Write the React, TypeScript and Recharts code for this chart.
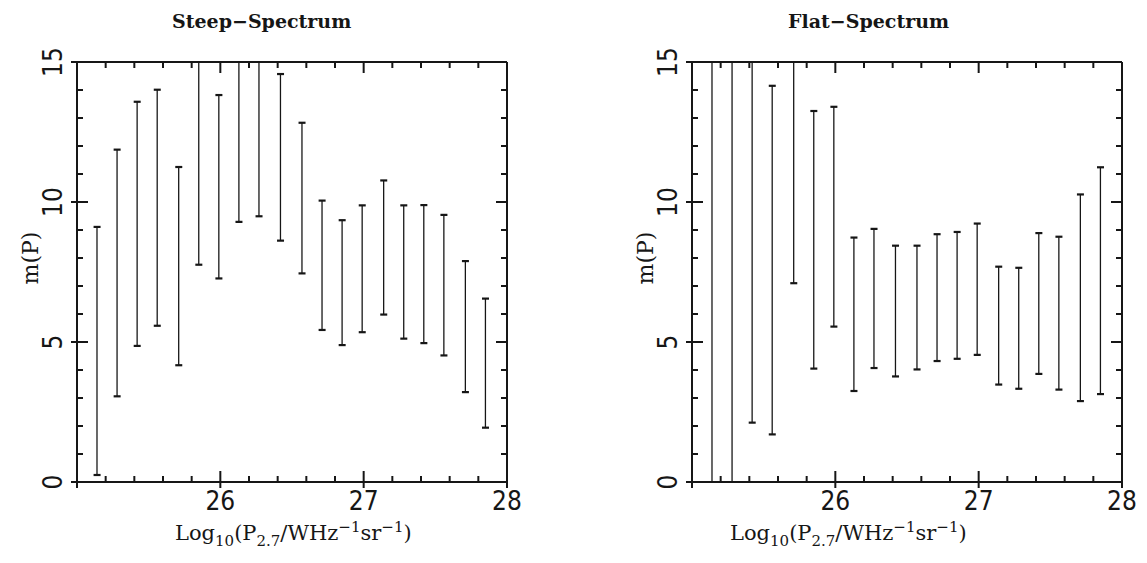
import { ComposedChart, Scatter, Bar, XAxis, YAxis, Label } from 'recharts'

// bin centres, Log10(P2.7)
const binX = [25.14, 25.28, 25.42, 25.56, 25.71, 25.85, 25.99, 26.13, 26.27, 26.42, 26.57, 26.71, 26.85, 26.99, 27.14, 27.28, 27.42, 27.56, 27.71, 27.85]

// m(P) ranges, values above 15 / below 0 run off the frame
const steepLow = [0.25, 3.06, 4.86, 5.58, 4.17, 7.76, 7.27, 9.29, 9.49, 8.62, 7.45, 5.43, 4.89, 5.35, 5.98, 5.12, 4.96, 4.52, 3.21, 1.94]
const steepHigh = [9.11, 11.87, 13.58, 14.01, 11.25, 16, 13.82, 16, 16, 14.57, 12.83, 10.05, 9.35, 9.88, 10.77, 9.88, 9.89, 9.54, 7.89, 6.55]
const flatLow = [-1, -1, 2.12, 1.7, 7.1, 4.05, 5.55, 3.25, 4.07, 3.77, 4.02, 4.32, 4.4, 4.54, 3.48, 3.33, 3.86, 3.3, 2.89, 3.14]
const flatHigh = [16, 16, 16, 14.15, 16, 13.25, 13.4, 8.73, 9.04, 8.44, 8.44, 8.85, 8.93, 9.23, 7.69, 7.65, 8.89, 8.76, 10.27, 11.24]

const xTicks = [25, 25.2, 25.4, 25.6, 25.8, 26, 26.2, 26.4, 26.6, 26.8, 27, 27.2, 27.4, 27.6, 27.8, 28]
const yTicks = [0, 1, 2, 3, 4, 5, 6, 7, 8, 9, 10, 11, 12, 13, 14, 15]

const X_MIN = 25
const X_MAX = 28
const Y_MIN = 0
const Y_MAX = 15

const INK = '#161616'
const numFont = "'DejaVu Sans Condensed', 'DejaVu Sans', sans-serif"
const serif = "'DejaVu Serif', 'Liberation Serif', serif"

const isMajorX = (v: number) => Math.abs(v - Math.round(v)) < 1e-6
const isMajorY = (v: number) => Math.abs(v % 5) < 1e-6

// tick labels only; the tick marks are drawn as scatter marks on the frame
function BottomTick(props: any) {
  const x = Number(props.x)
  const y = Number(props.y)
  const v = props.payload.value
  if (!isMajorX(v) || v === X_MIN) return <g />
  return (
    <text x={x} y={y + 19} textAnchor="middle" dominantBaseline="central" fontFamily={numFont} fontSize={26} fill={INK}>
      {v}
    </text>
  )
}

function LeftTick(props: any) {
  const x = Number(props.x)
  const y = Number(props.y)
  const v = props.payload.value
  if (!isMajorY(v)) return <g />
  return (
    <text
      x={x - 24}
      y={y}
      transform={`rotate(-90, ${x - 24}, ${y})`}
      textAnchor="middle"
      dominantBaseline="central"
      fontFamily={numFont}
      fontSize={26}
      fill={INK}
    >
      {v}
    </text>
  )
}

const BottomMark = (props: any) => {
  const major = isMajorX(props.payload.x)
  return <line x1={props.cx} x2={props.cx} y1={props.cy + (major ? 6 : 0)} y2={props.cy - (major ? 11 : 6)} stroke={INK} strokeWidth={2} />
}
const TopMark = (props: any) => {
  const major = isMajorX(props.payload.x)
  return <line x1={props.cx} x2={props.cx} y1={props.cy} y2={props.cy + (major ? 11 : 6)} stroke={INK} strokeWidth={2} />
}
const LeftMark = (props: any) => {
  const major = isMajorY(props.payload.v)
  return <line x1={props.cx - (major ? 6 : 0)} x2={props.cx + (major ? 11 : 6)} y1={props.cy} y2={props.cy} stroke={INK} strokeWidth={2} />
}
const RightMark = (props: any) => {
  const major = isMajorY(props.payload.v)
  return <line x1={props.cx} x2={props.cx - (major ? 11 : 6)} y1={props.cy} y2={props.cy} stroke={INK} strokeWidth={2} />
}

// short horizontal end cap of an error bar
const Cap = (props: any) => <line x1={props.cx - 3.5} x2={props.cx + 3.5} y1={props.cy} y2={props.cy} stroke={INK} strokeWidth={2.2} />

interface PanelProps {
  title: string
  low: number[]
  high: number[]
  titleX: number
  labelX: number
}

function Panel({ title, low, high, titleX, labelX }: PanelProps) {
  const data = binX.map((x, i) => ({
    x,
    range: [Math.max(low[i], Y_MIN), Math.min(high[i], Y_MAX)],
  }))
  // caps only where the end sits inside the frame
  const lowCaps = binX.map((x, i) => ({ x, v: low[i] })).filter((d) => d.v >= Y_MIN)
  const highCaps = binX.map((x, i) => ({ x, v: high[i] })).filter((d) => d.v <= Y_MAX)

  const bottomMarks = xTicks.map((t) => ({ x: t, v: Y_MIN }))
  const topMarks = xTicks.map((t) => ({ x: t, v: Y_MAX }))
  const leftMarks = yTicks.map((t) => ({ x: X_MIN, v: t }))
  const rightMarks = yTicks.map((t) => ({ x: X_MAX, v: t }))

  const axisLine = { stroke: INK, strokeWidth: 2 }

  return (
    <ComposedChart width={560} height={563} data={data} margin={{ top: 61, right: 52, bottom: 0, left: 0 }}>
      <XAxis
        xAxisId="b"
        dataKey="x"
        type="number"
        domain={[X_MIN, X_MAX]}
        ticks={xTicks}
        interval={0}
        height={81}
        tickSize={0}
        tickMargin={0}
        tickLine={false}
        axisLine={axisLine}
        tick={<BottomTick />}
      >
        <Label
          content={() => (
            <text x={labelX} y={540} fontFamily={serif} fontSize={21} fill={INK}>
              Log<tspan dy={6} fontSize={15}>10</tspan>
              <tspan dy={-6}>(P</tspan>
              <tspan dy={6} fontSize={15}>2.7</tspan>
              <tspan dy={-6}>/WHz</tspan>
              <tspan dy={-8} fontSize={15}>−1</tspan>
              <tspan dy={8}>sr</tspan>
              <tspan dy={-8} fontSize={15}>−1</tspan>
              <tspan dy={8}>)</tspan>
            </text>
          )}
        />
      </XAxis>
      <XAxis
        xAxisId="t"
        orientation="top"
        type="number"
        domain={[X_MIN, X_MAX]}
        ticks={xTicks}
        interval={0}
        height={1}
        tick={false}
        tickLine={false}
        axisLine={axisLine}
      >
        <Label
          content={() => (
            <text x={titleX} y={28} fontFamily={serif} fontWeight="bold" fontSize={19} fill={INK}>
              {title}
            </text>
          )}
        />
      </XAxis>
      <YAxis
        yAxisId="l"
        type="number"
        domain={[Y_MIN, Y_MAX]}
        ticks={yTicks}
        interval={0}
        width={77}
        tickSize={0}
        tickMargin={0}
        tickLine={false}
        axisLine={axisLine}
        tick={<LeftTick />}
      >
        <Label
          content={() => (
            <text
              x={30}
              y={258}
              transform="rotate(-90, 30, 258)"
              textAnchor="middle"
              dominantBaseline="central"
              fontFamily={serif}
              fontSize={22}
              fill={INK}
            >
              m(P)
            </text>
          )}
        />
      </YAxis>
      <YAxis
        yAxisId="r"
        orientation="right"
        type="number"
        domain={[Y_MIN, Y_MAX]}
        ticks={yTicks}
        interval={0}
        width={1}
        tick={false}
        tickLine={false}
        axisLine={axisLine}
      />
      <Bar xAxisId="b" yAxisId="l" dataKey="range" barSize={2} fill={INK} isAnimationActive={false} />
      <Scatter xAxisId="b" yAxisId="l" data={lowCaps} dataKey="v" shape={<Cap />} isAnimationActive={false} />
      <Scatter xAxisId="b" yAxisId="l" data={highCaps} dataKey="v" shape={<Cap />} isAnimationActive={false} />
      <Scatter xAxisId="b" yAxisId="l" data={bottomMarks} dataKey="v" shape={<BottomMark />} isAnimationActive={false} />
      <Scatter xAxisId="b" yAxisId="l" data={topMarks} dataKey="v" shape={<TopMark />} isAnimationActive={false} />
      <Scatter xAxisId="b" yAxisId="l" data={leftMarks} dataKey="v" shape={<LeftMark />} isAnimationActive={false} />
      <Scatter xAxisId="b" yAxisId="l" data={rightMarks} dataKey="v" shape={<RightMark />} isAnimationActive={false} />
    </ComposedChart>
  )
}

export default function App() {
  return (
    <div style={{ position: 'absolute', left: 0, top: 0, width: 1147, height: 563, background: '#fff' }}>
      <div style={{ position: 'absolute', left: 0, top: 0 }}>
        <Panel title="Steep−Spectrum" low={steepLow} high={steepHigh} titleX={172} labelX={175} />
      </div>
      <div style={{ position: 'absolute', left: 615, top: 0 }}>
        <Panel title="Flat−Spectrum" low={flatLow} high={flatHigh} titleX={173} labelX={115} />
      </div>
    </div>
  )
}
